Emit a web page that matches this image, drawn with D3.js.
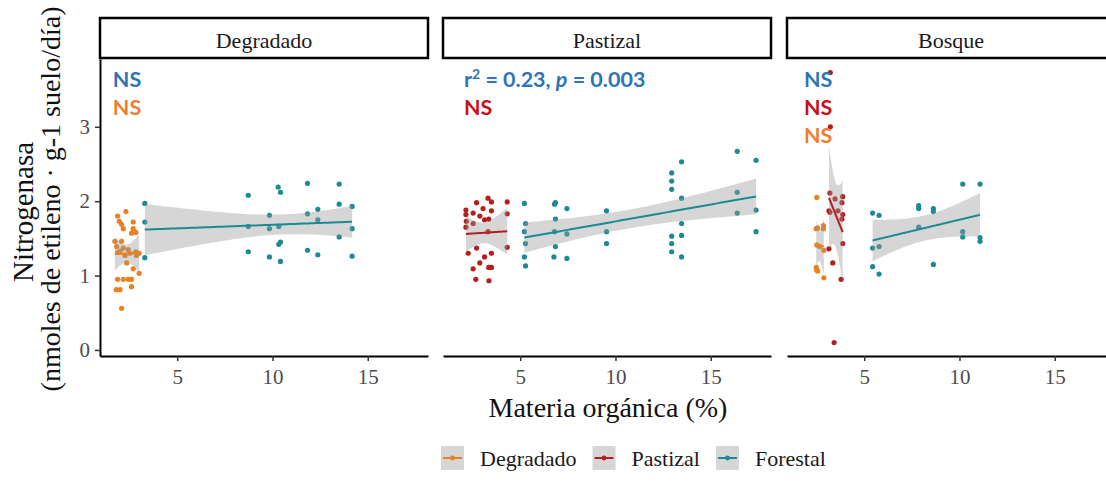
<!DOCTYPE html>
<html>
<head>
<meta charset="utf-8">
<script src="https://cdn.jsdelivr.net/npm/d3@7"></script>
<style>
  body { margin: 0; background: #fff; }
  svg { display: block; }
</style>
</head>
<body>
<svg width="1106" height="492"></svg>
<script>
// DATA (Materia orgánica %, Nitrogenasa)
const panels = ["Degradado", "Pastizal", "Bosque"];
const groups = ["Degradado", "Pastizal", "Forestal"];
const groupColors = ["#ec7f1f", "#b71d1d", "#1b8a94"];
const xTicks = [5, 10, 15];
const yTicks = [0, 1, 2, 3];

// panel Degradado
const degDegradado = [[2.31,1.86],[1.87,1.80],[2.69,1.72],[1.96,1.73],[2.08,1.69],[2.17,1.63],[2.69,1.63],
  [2.60,1.57],[2.83,1.58],[1.73,1.46],[2.08,1.46],[1.82,1.39],[2.17,1.37],[2.43,1.35],[2.52,1.30],
  [2.83,1.32],[3.00,1.30],[1.87,1.31],[2.00,1.33],[2.26,1.27],[2.86,1.27],[2.35,1.17],[2.69,1.09],
  [3.00,1.03],[1.87,0.95],[2.17,0.95],[2.43,0.95],[2.60,0.95],[2.00,0.81],[1.80,0.81],[2.60,0.85],[2.08,0.56]];
const degForestal = [[3.30,1.97],[3.30,1.72],[3.30,1.24],[8.73,2.08],[8.73,1.66],[8.73,1.32],[9.84,1.81],
  [9.84,1.63],[9.84,1.25],[10.30,2.19],[10.42,2.12],[10.33,1.66],[10.42,1.45],[10.33,1.42],[10.42,1.19],
  [11.84,2.24],[11.84,1.83],[11.84,1.34],[12.38,1.89],[12.38,1.75],[12.38,1.28],[13.50,2.23],[13.50,1.96],
  [13.50,1.52],[14.18,1.93],[14.18,1.63],[14.18,1.26]];

// panel Pastizal
const pasPastizal = [[2.15,1.88],[2.71,1.98],[3.31,2.04],[3.49,1.99],[4.32,1.99],[2.15,1.82],[2.53,1.84],
  [3.05,1.90],[3.49,1.87],[2.88,1.80],[3.13,1.75],[3.35,1.76],[2.17,1.73],[2.53,1.70],[4.32,1.83],
  [2.15,1.65],[3.31,1.59],[2.27,1.30],[2.71,1.37],[3.49,1.30],[4.32,1.38],[3.13,1.25],[2.88,1.17],
  [3.35,1.11],[3.49,1.11],[2.53,1.09],[2.67,0.95],[3.36,0.93]];
const pasForestal = [[5.22,1.97],[5.28,1.70],[5.22,1.59],[5.28,1.43],[5.22,1.25],[5.28,1.13],[6.80,1.96],
  [6.85,1.98],[6.85,1.76],[6.80,1.59],[6.85,1.39],[6.77,1.25],[7.45,1.90],[7.45,1.56],[7.45,1.23],
  [9.53,1.87],[9.53,1.59],[9.53,1.43],[12.95,2.38],[12.95,2.27],[12.95,2.16],[12.95,1.53],[12.95,1.43],
  [12.95,1.32],[13.47,2.53],[13.47,2.04],[13.47,1.70],[13.47,1.54],[13.47,1.25],[16.39,2.67],[16.39,2.12],
  [16.39,1.84],[17.38,2.55],[17.38,1.88],[17.38,1.59]];

// panel Bosque
const bosDegradado = [[2.51,2.05],[2.48,1.63],[2.55,1.64],[2.86,1.67],[2.86,1.63],[2.51,1.41],[2.66,1.39],
  [2.88,1.34],[2.48,1.11],[2.51,1.07],[2.56,1.06],[2.88,0.97]];
const bosPastizal = [[3.22,3.73],[3.22,3.00],[3.20,2.11],[3.47,2.03],[3.87,2.06],[3.83,1.98],[3.15,1.87],
  [3.20,1.85],[3.62,1.87],[3.87,1.82],[3.83,1.76],[3.87,1.43],[3.15,1.36],[3.35,1.17],[3.79,0.95],[3.42,0.10]];
const bosForestal = [[5.44,1.84],[5.78,1.81],[5.44,1.37],[5.78,1.39],[5.44,1.12],[5.78,1.02],[7.86,1.94],
  [7.86,1.90],[7.86,1.65],[8.63,1.90],[8.63,1.86],[8.63,1.15],[10.17,2.23],[10.17,1.59],[10.17,1.52],
  [11.08,2.23],[11.08,1.51],[11.08,1.46]];

const panelData = [
  [degDegradado, null, degForestal],
  [null, pasPastizal, pasForestal],
  [bosDegradado, bosPastizal, bosForestal]
];

// annotations: [panel, x, y, label, colour]
const annColors = { blue: "#2e75b6", orange: "#ed7d31", red: "#c8101a" };
const annotations = [
  [0, 1.62, 3.54, "NS", "blue"],
  [0, 1.62, 3.16, "NS", "orange"],
  [1, 2.05, 3.54, "R2", "blue"],
  [1, 2.05, 3.16, "NS", "red"],
  [2, 1.84, 3.54, "NS", "blue"],
  [2, 1.84, 3.16, "NS", "red"],
  [2, 1.84, 2.78, "NS", "orange"]
];

const svg = d3.select("svg");

// LAYOUT
const panelX = [100, 443, 787];
const panelW = 328;
const panelTop = 59, panelBottom = 356;
const stripTop = 18, stripBottom = 58;
const serif = "'Liberation Serif', 'Times New Roman', serif";
const tickGray = "#4d4d4d";

// shared scales (5% expansion like ggplot)
const allPts = panelData.flat().filter(d => d).flat();
const xExt = d3.extent(allPts, d => d[0]);
const yExt = d3.extent(allPts, d => d[1]);
const xPad = (xExt[1] - xExt[0]) * 0.05;
const yPad = (yExt[1] - yExt[0]) * 0.05;
const y = d3.scaleLinear().domain([yExt[0] - yPad, yExt[1] + yPad]).range([panelBottom, panelTop]);

// linear fit + 95% CI
function tq(df) {
  const z = 1.959964;
  return z + (z ** 3 + z) / (4 * df) + (5 * z ** 5 + 16 * z ** 3 + 3 * z) / (96 * df * df)
    + (3 * z ** 7 + 19 * z ** 5 + 17 * z ** 3 - 15 * z) / (384 * df ** 3);
}
function fit(pts) {
  const n = pts.length;
  const xm = d3.mean(pts, d => d[0]), ym = d3.mean(pts, d => d[1]);
  const sxx = d3.sum(pts, d => (d[0] - xm) ** 2);
  const sxy = d3.sum(pts, d => (d[0] - xm) * (d[1] - ym));
  const b = sxy / sxx, a = ym - b * xm;
  const s = Math.sqrt(d3.sum(pts, d => (d[1] - a - b * d[0]) ** 2) / (n - 2));
  const t = tq(n - 2);
  const [x0, x1] = d3.extent(pts, d => d[0]);
  return d3.range(81).map(i => {
    const xv = x0 + (x1 - x0) * i / 80;
    const se = s * Math.sqrt(1 / n + (xv - xm) ** 2 / sxx);
    const yv = a + b * xv;
    return { x: xv, y: yv, lo: yv - t * se, hi: yv + t * se };
  });
}

svg.append("defs").append("clipPath").attr("id", "clipAll")
  .append("rect").attr("x", 0).attr("y", panelTop).attr("width", 1200).attr("height", panelBottom - panelTop);

panels.forEach((name, p) => {
  const x = d3.scaleLinear().domain([xExt[0] - xPad, xExt[1] + xPad]).range([panelX[p], panelX[p] + panelW]);

  // strip
  svg.append("rect")
    .attr("x", panelX[p]).attr("y", stripTop)
    .attr("width", panelW).attr("height", stripBottom - stripTop)
    .attr("fill", "#fff").attr("stroke", "#000").attr("stroke-width", 2.5);
  svg.append("text")
    .attr("x", panelX[p] + panelW / 2).attr("y", 48)
    .attr("text-anchor", "middle")
    .attr("font-family", serif).attr("font-size", 22).attr("fill", "#1a1a1a")
    .text(name);

  const g = svg.append("g").attr("clip-path", "url(#clipAll)");

  // points
  panelData[p].forEach((pts, gi) => {
    if (!pts) return;
    g.selectAll(null).data(pts).enter().append("circle")
      .attr("cx", d => x(d[0])).attr("cy", d => y(d[1]))
      .attr("r", 2.6).attr("fill", groupColors[gi]);
  });

  // smooths
  panelData[p].forEach((pts, gi) => {
    if (!pts) return;
    const f = fit(pts);
    g.append("path").datum(f)
      .attr("d", d3.area().x(d => x(d.x)).y0(d => y(d.lo)).y1(d => y(d.hi)))
      .attr("fill", "#999").attr("opacity", 0.4);
    g.append("path").datum(f)
      .attr("d", d3.line().x(d => x(d.x)).y(d => y(d.y)))
      .attr("fill", "none").attr("stroke", groupColors[gi]).attr("stroke-width", 2);
  });

  // x axis
  const xAxis = svg.append("g").attr("transform", `translate(0,${panelBottom})`)
    .call(d3.axisBottom(x).tickValues(xTicks).tickSize(5).tickPadding(8).tickSizeOuter(0));
  xAxis.select(".domain").attr("stroke", "#000").attr("stroke-width", 2);
  xAxis.selectAll(".tick line").attr("stroke", "#333").attr("stroke-width", 1.5);
  xAxis.selectAll(".tick text").attr("font-family", serif).attr("font-size", 21).attr("fill", tickGray);

  // annotations
  annotations.filter(a => a[0] === p).forEach(a => {
    const t = svg.append("text")
      .attr("x", x(a[1])).attr("y", y(a[2]))
      .attr("font-family", "Lato, 'Open Sans', sans-serif").attr("font-weight", "bold")
      .attr("font-size", 21.5).attr("fill", annColors[a[4]]);
    if (a[3] === "R2") {
      t.append("tspan").text("r");
      t.append("tspan").attr("dy", -8).attr("font-size", 14).text("2");
      t.append("tspan").attr("dy", 8).text(" = 0.23, ");
      t.append("tspan").attr("font-style", "italic").text("p");
      t.append("tspan").text(" = 0.003");
    } else {
      t.text(a[3]);
    }
  });
});

// y axis (first column only)
const yAxis = svg.append("g").attr("transform", `translate(${panelX[0]},0)`)
  .call(d3.axisLeft(y).tickValues(yTicks).tickFormat(d3.format("d")).tickSize(5).tickPadding(5).tickSizeOuter(0));
yAxis.select(".domain").attr("stroke", "#000").attr("stroke-width", 2);
yAxis.selectAll(".tick line").attr("stroke", "#333").attr("stroke-width", 1.5);
yAxis.selectAll(".tick text").attr("font-family", serif).attr("font-size", 21).attr("fill", tickGray);

// axis titles
svg.append("text")
  .attr("x", 608).attr("y", 417).attr("text-anchor", "middle")
  .attr("font-family", serif).attr("font-size", 28).attr("fill", "#111")
  .text("Materia orgánica (%)");
svg.append("text")
  .attr("transform", "translate(33,212) rotate(-90)")
  .attr("text-anchor", "middle")
  .attr("font-family", serif).attr("font-size", 29).attr("fill", "#111")
  .text("Nitrogenasa");
svg.append("text")
  .attr("transform", "translate(60,199) rotate(-90)")
  .attr("text-anchor", "middle")
  .attr("font-family", serif).attr("font-size", 28).attr("fill", "#111")
  .text("(nmoles de etileno · g-1 suelo/día)");

// legend
let lx = 441;
groups.forEach((name, gi) => {
  const item = svg.append("g").attr("transform", `translate(${lx},446)`);
  item.append("rect").attr("width", 23).attr("height", 24).attr("fill", "#d6d6d6");
  item.append("line").attr("x1", 2).attr("x2", 21).attr("y1", 12).attr("y2", 12)
    .attr("stroke", groupColors[gi]).attr("stroke-width", 2);
  item.append("circle").attr("cx", 11.5).attr("cy", 12).attr("r", 2.4).attr("fill", groupColors[gi]);
  const txt = item.append("text").attr("x", 39).attr("y", 20)
    .attr("font-family", serif).attr("font-size", 22).attr("fill", "#1a1a1a")
    .text(name);
  lx += 39 + txt.node().getComputedTextLength() + 16;
});
</script>
</body>
</html>
